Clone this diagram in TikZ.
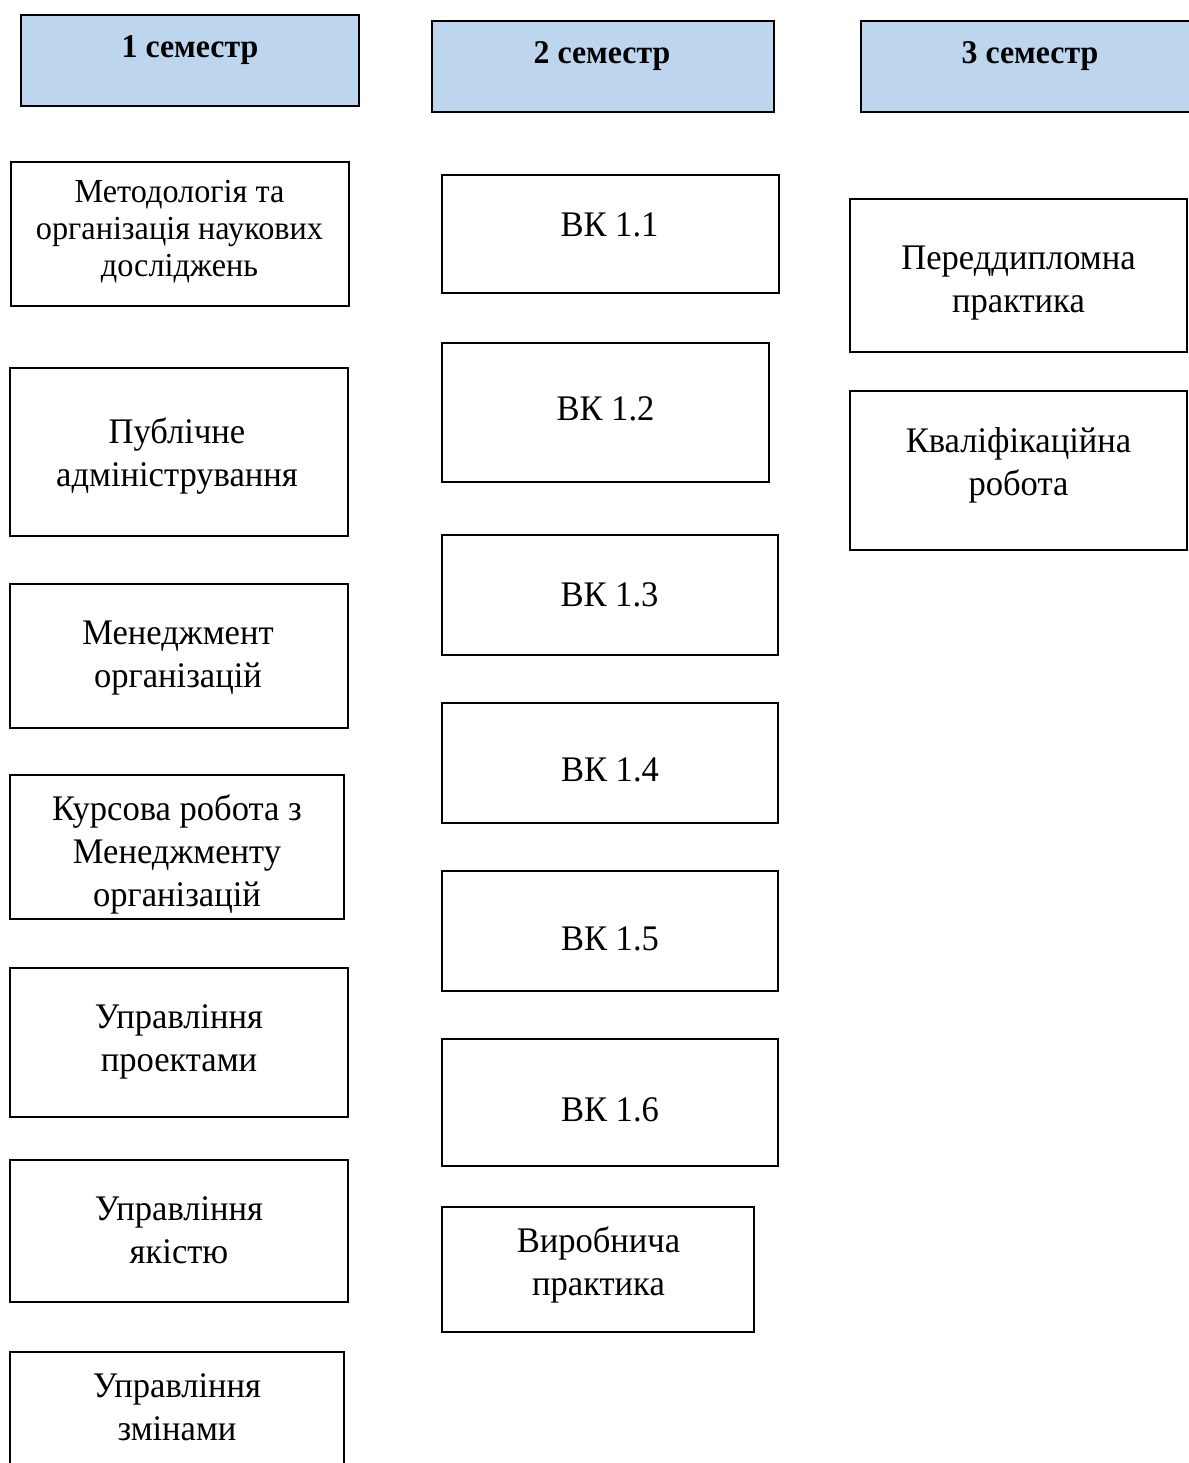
\documentclass[tikz,border=0pt]{standalone}
\usepackage{fontspec}
\setmainfont{Liberation Serif}[FakeStretch=0.96]
\definecolor{hdrblue}{RGB}{189,214,238}
\begin{document}
\begin{tikzpicture}[x=0.5pt,y=-0.5pt,
  box/.style={draw=black,line width=1.2pt,fill=white,inner sep=0pt,outer sep=0pt},
  hdr/.style={box,fill=hdrblue},
  txt/.style={inner sep=0pt,align=center,anchor=base,font=\fontsize{18pt}{21.5pt}\selectfont},
  smalltxt/.style={txt,font=\fontsize{16.8pt}{18.5pt}\selectfont},
  hdrtxt/.style={txt,font=\bfseries\fontsize{16.6pt}{20pt}\selectfont}]
\useasboundingbox[fill=white] (0,0) rectangle (1189,1463);
% headers
\node[hdr,minimum width=169pt,minimum height=45.5pt] (h1) at (190,60.5) {};
\node[hdr,minimum width=171pt,minimum height=45.5pt] (h2) at (603,66.5) {};
\node[hdr,minimum width=169.5pt,minimum height=45.5pt] (h3) at (1030.5,66.5) {};
\node[hdrtxt] (h1t) at (190,57) {1 семестр};
\node[hdrtxt] (h2t) at (602,63) {2 семестр};
\node[hdrtxt] (h3t) at (1030,63) {3 семестр};
% column 1
\node[box,minimum width=169pt,minimum height=72pt] (m1) at (180,234) {};
\node[box,minimum width=169pt,minimum height=84pt] (m2) at (179,452) {};
\node[box,minimum width=169pt,minimum height=72pt] (m3) at (179,656) {};
\node[box,minimum width=167pt,minimum height=72pt] (m4) at (177,847) {};
\node[box,minimum width=169pt,minimum height=74.5pt] (m5) at (179,1042.5) {};
\node[box,minimum width=169pt,minimum height=71pt] (m6) at (179,1231) {};
\node[box,minimum width=167pt,minimum height=74pt] (m7) at (177,1426) {};
\node[smalltxt] (m1t) at (179.5,276) {Методологія та\\організація наукових\\досліджень};
\node[txt] (m2t) at (177,486) {Публічне\\адміністрування};
\node[txt] (m3t) at (178,687) {Менеджмент\\організацій};
\node[txt] (m4t) at (177,906) {Курсова робота з\\Менеджменту\\організацій};
\node[txt] (m5t) at (179,1071) {Управління\\проектами};
\node[txt] (m6t) at (179,1263) {Управління\\якістю};
\node[txt] (m7t) at (177,1440) {Управління\\змінами};
% column 2
\node[box,minimum width=168.5pt,minimum height=59pt] (v1) at (610.5,234) {};
\node[box,minimum width=163.5pt,minimum height=69.5pt] (v2) at (605.5,412.5) {};
\node[box,minimum width=168pt,minimum height=60pt] (v3) at (610,595) {};
\node[box,minimum width=168pt,minimum height=60pt] (v4) at (610,763) {};
\node[box,minimum width=168pt,minimum height=60pt] (v5) at (610,931) {};
\node[box,minimum width=168pt,minimum height=63.5pt] (v6) at (610,1102.5) {};
\node[box,minimum width=156pt,minimum height=62.5pt] (v7) at (598,1269.5) {};
\node[txt] (v1t) at (609.5,236) {ВК 1.1};
\node[txt] (v2t) at (605.5,420) {ВК 1.2};
\node[txt] (v3t) at (609.5,606) {ВК 1.3};
\node[txt] (v4t) at (610,781) {ВК 1.4};
\node[txt] (v5t) at (610,950) {ВК 1.5};
\node[txt] (v6t) at (610,1121) {ВК 1.6};
\node[txt] (v7t) at (598.5,1295) {Виробнича\\практика};
% column 3
\node[box,minimum width=168.5pt,minimum height=76.5pt] (p1) at (1018.5,275.5) {};
\node[box,minimum width=168.5pt,minimum height=79.5pt] (p2) at (1018.5,470.5) {};
\node[txt] (p1t) at (1018.5,312) {Переддипломна\\практика};
\node[txt] (p2t) at (1018.5,495) {Кваліфікаційна\\робота};
\end{tikzpicture}
\end{document}
